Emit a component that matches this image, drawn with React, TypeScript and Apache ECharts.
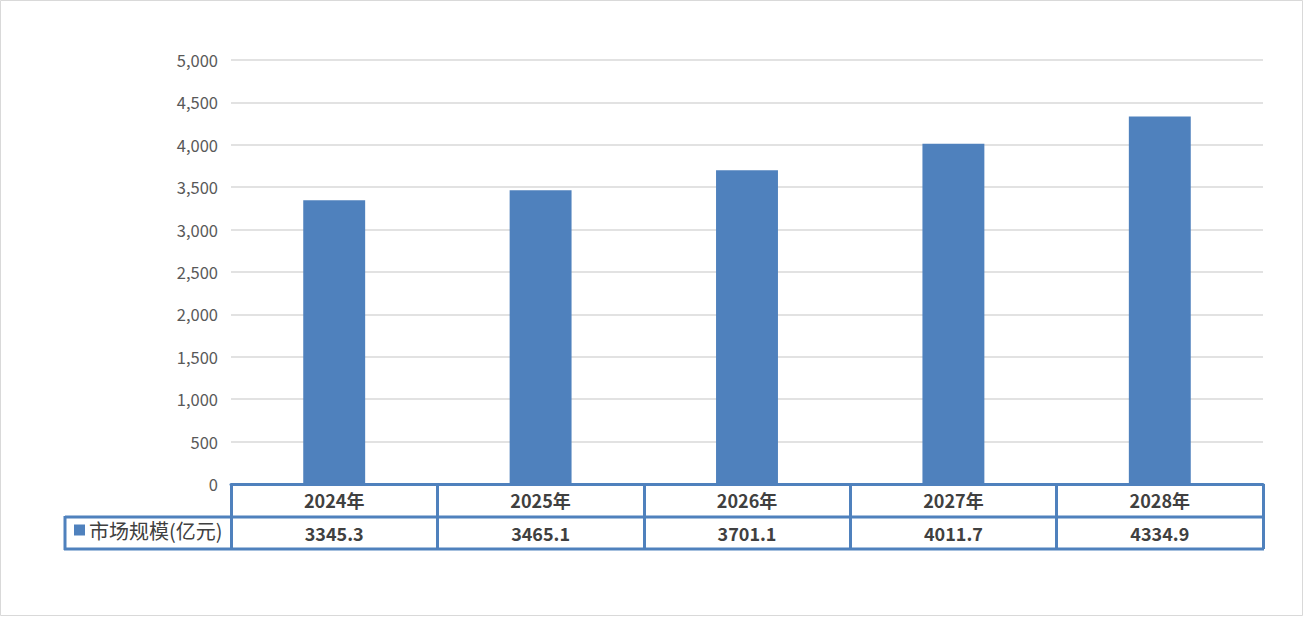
import React, { useEffect, useRef } from "react";
import * as echarts from "echarts";

const categories = ["2024年", "2025年", "2026年", "2027年", "2028年"];
const marketSize = [3345.3, 3465.1, 3701.1, 4011.7, 4334.9];
const seriesName = "市场规模(亿元)";
const yTicks = { min: 0, max: 5000, interval: 500 };

const BLUE = "#4F81BD";
const FONT = "'Noto Sans CJK SC', 'Noto Sans', sans-serif";

export default function App() {
  const ref = useRef<HTMLDivElement>(null);
  useEffect(() => {
    document.body.style.margin = "0";
    const chart = echarts.init(ref.current!, null, { renderer: "svg" });
    chart.setOption({
      animation: false,
      backgroundColor: "#ffffff",
      textStyle: { fontFamily: FONT },
      grid: { left: 231, right: 41, top: 60, bottom: 133, containLabel: false },
      legend: {
        left: 74,
        top: 520,
        padding: 0,
        itemWidth: 11,
        itemHeight: 11,
        icon: "rect",
        textStyle: { fontSize: 20, color: "#404040", fontFamily: FONT, padding: [0, 0, 0, -1] },
        data: [seriesName],
      },
      xAxis: [
        {
          type: "category",
          data: categories,
          boundaryGap: true,
          axisLine: { show: true, lineStyle: { color: BLUE, width: 3 } },
          axisTick: { show: true, length: 65, lineStyle: { color: BLUE, width: 3 } },
          axisLabel: {
            margin: 7,
            fontSize: 18,
            fontWeight: "bold",
            color: "#404040",
            fontFamily: FONT,
          },
        },
        {
          type: "category",
          position: "bottom",
          offset: 33,
          data: marketSize.map((v) => v.toFixed(1)),
          axisLine: { show: false },
          axisTick: { show: false },
          axisLabel: {
            margin: 7,
            fontSize: 18,
            fontWeight: "bold",
            color: "#404040",
            fontFamily: FONT,
          },
        },
      ],
      yAxis: {
        type: "value",
        min: yTicks.min,
        max: yTicks.max,
        interval: yTicks.interval,
        axisLine: { show: false },
        axisTick: { show: false },
        splitLine: { lineStyle: { color: "#d9d9d9", width: 1.5 } },
        axisLabel: {
          margin: 13,
          fontSize: 16.5,
          color: "#595959",
          fontFamily: FONT,
          formatter: (v: number) => v.toLocaleString("en-US"),
        },
      },
      series: [
        {
          name: seriesName,
          type: "bar",
          xAxisIndex: 0,
          data: marketSize,
          barWidth: "30%",
          itemStyle: { color: BLUE },
        },
      ],
      graphic: [
        {
          type: "rect",
          shape: { x: 0.5, y: 0.5, width: 1302, height: 615 },
          style: { fill: "none", stroke: "#d9d9d9", lineWidth: 1 },
          silent: true,
        },
        {
          type: "line",
          shape: { x1: 65, y1: 517, x2: 1264, y2: 517 },
          style: { stroke: BLUE, lineWidth: 3 },
          silent: true,
        },
        {
          type: "line",
          shape: { x1: 64, y1: 549, x2: 1264, y2: 549 },
          style: { stroke: BLUE, lineWidth: 3 },
          silent: true,
        },
        {
          type: "line",
          shape: { x1: 65, y1: 516, x2: 65, y2: 550 },
          style: { stroke: BLUE, lineWidth: 3 },
          silent: true,
        },
      ],
    });
    return () => chart.dispose();
  }, []);
  return <div ref={ref} style={{ width: 1304, height: 617 }} />;
}
